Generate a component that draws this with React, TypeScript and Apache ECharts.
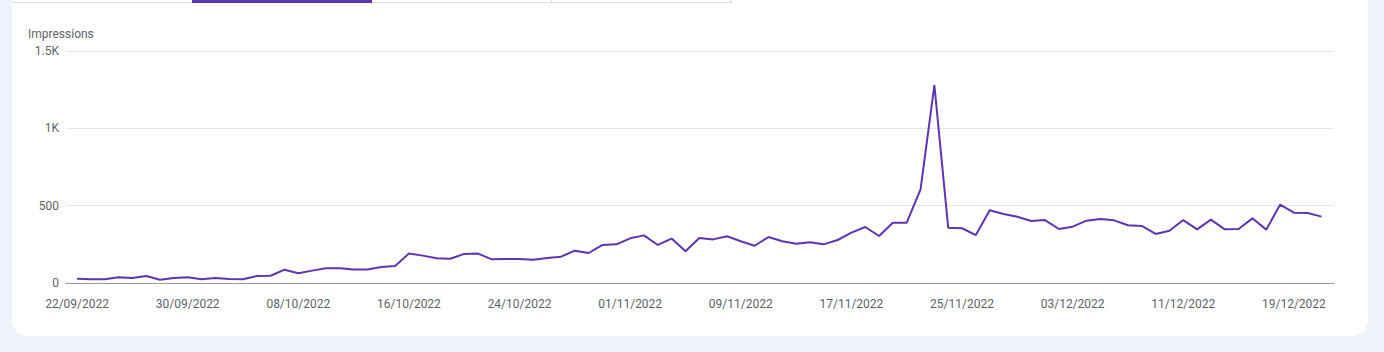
import React, { useEffect, useRef } from "react";
import * as echarts from "echarts";

const START_DATE = Date.UTC(2022, 8, 22);
const DAY = 86400000;

const impressions: number[] = [
  28, 24, 24, 37, 32, 45, 21, 32, 37, 24,
  32, 26, 24, 45, 47, 86, 63, 80, 95, 96,
  88, 88, 103, 110, 190, 177, 160, 157, 188, 190,
  153, 155, 155, 151, 162, 170, 209, 194, 246, 250,
  289, 308, 246, 287, 205, 291, 282, 302, 270, 241,
  297, 270, 254, 263, 250, 278, 326, 362, 304, 390,
  390, 606, 1279, 358, 354, 310, 470, 446, 428, 401,
  407, 349, 364, 403, 414, 405, 373, 369, 317, 338,
  407, 347, 410, 347, 349, 418, 345, 506, 455, 453,
  429,
];

const pad = (n: number) => (n < 10 ? "0" + n : "" + n);
const fmtDate = (t: number) => {
  const d = new Date(t);
  return pad(d.getUTCDate()) + "/" + pad(d.getUTCMonth() + 1) + "/" + d.getUTCFullYear();
};

const dates: string[] = impressions.map((_, i) => fmtDate(START_DATE + i * DAY));
const labelDayIndexes: number[] = [0, 8, 16, 24, 32, 40, 48, 56, 64, 72, 80, 88];
const yTicks: number[] = [0, 500, 1000, 1500];
const yTickLabels: string[] = ["0", "500", "1K", "1.5K"];
const seriesName = "Impressions";

export default function App() {
  const ref = useRef<HTMLDivElement>(null);
  useEffect(() => {
    if (!ref.current) return;
    const chart = echarts.init(ref.current, undefined, { renderer: "svg" });
    const textColor = "#5f6368";
    chart.setOption({
      animation: false,
      backgroundColor: "#eff3fa",
      graphic: [
        {
          type: "rect",
          shape: { x: 12, y: -30, width: 1356, height: 366, r: 16 },
          style: { fill: "#ffffff" },
          z: -10,
          silent: true,
        },
        {
          type: "rect",
          shape: { x: 12, y: 2, width: 720, height: 1 },
          style: { fill: "#dedede" },
          z: -5,
        },
        {
          type: "rect",
          shape: { x: 551, y: 0, width: 1, height: 3 },
          style: { fill: "#dedede" },
          z: -5,
        },
        {
          type: "rect",
          shape: { x: 731, y: 0, width: 1, height: 3 },
          style: { fill: "#dedede" },
          z: -5,
        },
        {
          type: "rect",
          shape: { x: 192, y: 0, width: 180, height: 3 },
          style: { fill: "#5e35b1" },
          z: -4,
        },
        {
          type: "text",
          left: 28,
          top: 28,
          style: {
            text: seriesName,
            fill: textColor,
            font: "12px Roboto",
          },
        },
      ],
      grid: { left: 66, right: 50, top: 51, bottom: 69, containLabel: false },
      xAxis: {
        type: "value",
        min: -0.8,
        max: impressions.length - 1 + 0.9,
        axisLine: { show: true, onZero: false, lineStyle: { color: "#9a9a9a", width: 1 } },
        axisTick: { show: false },
        splitLine: { show: false },
        axisLabel: {
          customValues: labelDayIndexes,
          formatter: (v: number) => dates[Math.round(v)] ?? "",
          color: textColor,
          fontFamily: "Roboto",
          fontSize: 12,
          margin: 15,
        },
      },
      yAxis: {
        type: "value",
        min: 0,
        max: 1500,
        interval: 500,
        axisLine: { show: false },
        axisTick: { show: false },
        splitLine: { show: true, lineStyle: { color: "#e6e6e6", width: 1 } },
        axisLabel: {
          formatter: (v: number) => yTickLabels[yTicks.indexOf(v)] ?? String(v),
          color: textColor,
          fontFamily: "Roboto",
          fontSize: 12,
          margin: 7,
        },
      },
      series: [
        {
          name: seriesName,
          type: "line",
          data: impressions.map((v, i) => [i, v]),
          showSymbol: false,
          symbol: "none",
          lineStyle: { color: "#5e35b1", width: 2 },
          itemStyle: { color: "#5e35b1" },
        },
      ],
    });
    return () => chart.dispose();
  }, []);
  return (
    <div
      ref={ref}
      style={{ position: "absolute", left: 0, top: 0, width: 1384, height: 352 }}
    />
  );
}
